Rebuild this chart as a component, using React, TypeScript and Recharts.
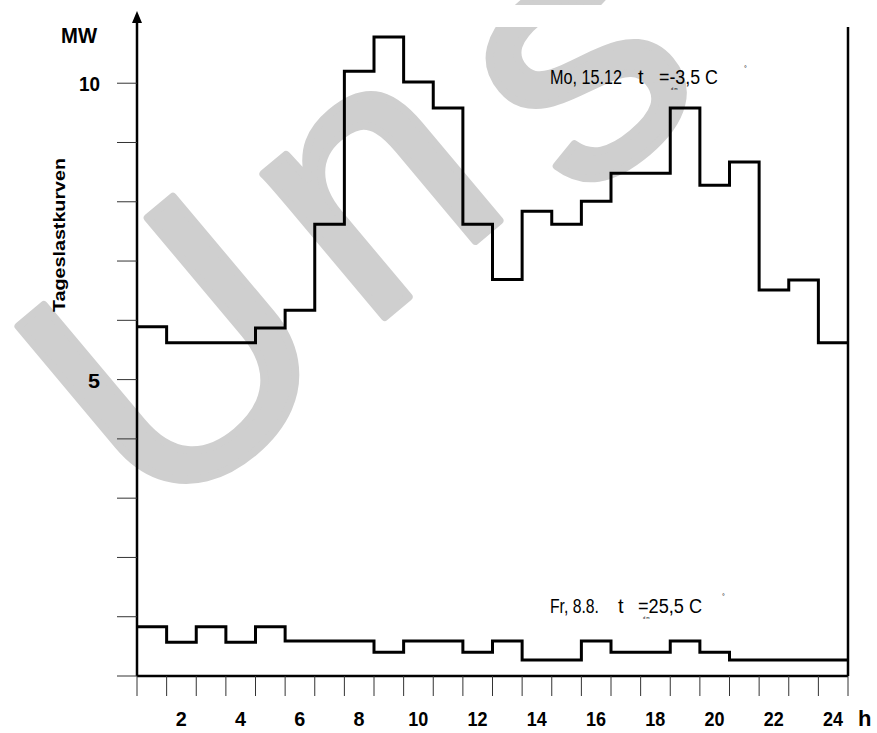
import React from "react";
import {
  LineChart, Line, XAxis, YAxis, ReferenceLine, ReferenceDot,
} from "recharts";

// hourly load, MW (value holds from hour h to h+1)
const HOURS = [0, 1, 2, 3, 4, 5, 6, 7, 8, 9, 10, 11, 12, 13, 14, 15, 16, 17, 18, 19, 20, 21, 22, 23, 24];
const MONDAY = [5.89, 5.62, 5.62, 5.62, 5.87, 6.17, 7.62, 10.2, 10.78, 10.02, 9.58, 7.62, 6.69, 7.84, 7.62, 8.01, 8.48, 8.48, 9.58, 8.28, 8.67, 6.51, 6.68, 5.62];
const FRIDAY = [0.83, 0.57, 0.83, 0.57, 0.83, 0.59, 0.59, 0.59, 0.4, 0.59, 0.59, 0.4, 0.59, 0.27, 0.27, 0.59, 0.4, 0.4, 0.59, 0.4, 0.27, 0.27, 0.27, 0.27];
const X_TICKS = HOURS;
const Y_TICKS = [0, 1, 2, 3, 4, 5, 6, 7, 8, 9, 10];
const Y_LABELS = [5, 10];

// last hour repeated at 24 so the step closes at the right border
const rows = HOURS.map((h) => ({
  h,
  mo: MONDAY[Math.min(h, MONDAY.length - 1)],
  fr: FRIDAY[Math.min(h, FRIDAY.length - 1)],
}));

const FONT = "'Liberation Sans', Arial, sans-serif";

const XTick = ({ x, y, payload }: any) => {
  const v = payload.value;
  if (v === 0 || v % 2 !== 0) return null;
  return (
    <text x={x - 15} y={y + 28} textAnchor="middle" fontFamily={FONT} fontWeight="bold" fontSize={21}
      fill="#000" textLength={v >= 10 ? 20 : 11} lengthAdjust="spacingAndGlyphs">
      {v}
    </text>
  );
};

const YTick = ({ x, y, payload }: any) => {
  const v = payload.value;
  if (!Y_LABELS.includes(v)) return null;
  return (
    <text x={x - 15} y={y + 8} textAnchor="end" fontFamily={FONT} fontWeight="bold" fontSize={21}
      fill="#000" textLength={v >= 10 ? 21 : 12} lengthAdjust="spacingAndGlyphs">
      {v}
    </text>
  );
};

const Arrow = ({ cx, cy }: any) => (
  <path d={`M${cx},${cy - 7} L${cx - 5},${cy + 5} L${cx + 5},${cy + 5} Z`} fill="#000" />
);

export default function App() {
  return (
    <div style={{ position: "absolute", left: 0, top: 0, width: 877, height: 733, background: "#fff" }}>
      {/* watermark behind the chart */}
      <svg width={877} height={733} style={{ position: "absolute", left: 0, top: 0 }}>
        <defs>
          <clipPath id="wm">
            <rect x={0} y={0} width={877} height={5} />
            <rect x={0} y={27} width={877} height={706} />
          </clipPath>
        </defs>
        <g clipPath="url(#wm)">
          <text transform="translate(154.5,531) rotate(-40)" fontFamily={FONT} fontSize={355} fill="#cfcfcf"
            stroke="#cfcfcf" strokeWidth={8} strokeLinejoin="round">
            U<tspan dx={33} dy={-16}>n</tspan><tspan dx={46} dy={39}>s</tspan>
          </text>
        </g>
      </svg>

      <div style={{ position: "absolute", left: 0, top: 0 }}>
        <LineChart width={877} height={733} data={rows} margin={{ top: 18, right: 29, left: 0, bottom: 0 }}>
          <XAxis dataKey="h" type="number" domain={[0, 24]} ticks={X_TICKS} interval={0} height={57}
            tickSize={20} tick={<XTick />} axisLine={{ stroke: "#000", strokeWidth: 2.5 }}
            tickLine={{ stroke: "#333", strokeWidth: 1 }} />
          <YAxis type="number" domain={[0, 11.1]} ticks={Y_TICKS} interval={0} width={137}
            tickSize={20} tick={<YTick />} axisLine={{ stroke: "#000", strokeWidth: 2.5 }}
            tickLine={{ stroke: "#333", strokeWidth: 1 }} />
          <ReferenceLine segment={[{ x: 24, y: 0 }, { x: 24, y: 10.95 }]} stroke="#000" strokeWidth={2.5} />
          <ReferenceDot x={0} y={11.1} r={0} shape={<Arrow />} ifOverflow="visible" />
          <Line type="stepAfter" dataKey="mo" stroke="#000" strokeWidth={3} dot={false} isAnimationActive={false} />
          <Line type="stepAfter" dataKey="fr" stroke="#000" strokeWidth={3} dot={false} isAnimationActive={false} />
        </LineChart>
      </div>

      {/* labels and annotations */}
      <svg width={877} height={733} style={{ position: "absolute", left: 0, top: 0, pointerEvents: "none" }}
        fontFamily={FONT} fill="#000">
        <text x={61} y={43} fontSize={22} fontWeight="bold" textLength={36} lengthAdjust="spacingAndGlyphs">MW</text>
        <text transform="translate(65,312) rotate(-90)" fontSize={17} fontWeight="bold" textLength={154}
          lengthAdjust="spacingAndGlyphs">Tageslastkurven</text>
        <text x={858} y={726} fontSize={22} fontWeight="bold">h</text>

        <text x={550} y={84} fontSize={20} textLength={72} lengthAdjust="spacingAndGlyphs">Mo, 15.12</text>
        <text x={638} y={84} fontSize={20}>t</text>
        <text x={659} y={84} fontSize={20} textLength={59} lengthAdjust="spacingAndGlyphs">=-3,5 C</text>
        <text x={671} y={90} fontSize={4}>d m</text>
        <text x={744} y={71} fontSize={7}>°</text>

        <text x={550} y={613} fontSize={20} textLength={49} lengthAdjust="spacingAndGlyphs">Fr, 8.8.</text>
        <text x={618} y={613} fontSize={20}>t</text>
        <text x={638} y={613} fontSize={20} textLength={64} lengthAdjust="spacingAndGlyphs">=25,5 C</text>
        <text x={643} y={619} fontSize={4}>d m</text>
        <text x={722} y={599} fontSize={7}>°</text>
      </svg>
    </div>
  );
}
